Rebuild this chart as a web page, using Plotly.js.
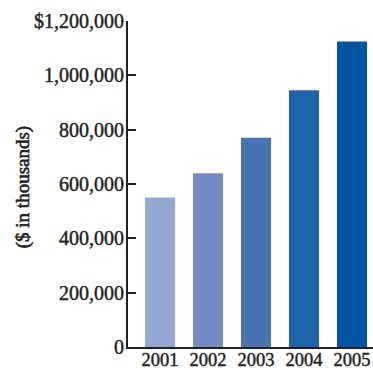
<!DOCTYPE html>
<html>
<head>
<meta charset="utf-8">
<script src="https://cdn.plot.ly/plotly-3.0.1.min.js"></script>
<style>
html,body{margin:0;padding:0;background:#fff;}
#chart{width:373px;height:370px;}
#chart .xtick text, #chart .ytick text {stroke:#231f20; stroke-width:0.45px;}
#chart text.annotation-text {stroke:#231f20 !important; stroke-width:0.6px !important;}
</style>
</head>
<body>
<div id="chart"></div>
<script>
var years = ['2001', '2002', '2003', '2004', '2005'];
var values = [550000, 640000, 770000, 945000, 1125000];
var barColors = ['#93a7d2', '#728bc2', '#4a73b2', '#1f63a8', '#03539f'];
var yTickVals = [0, 200000, 400000, 600000, 800000, 1000000, 1200000];
var yTickText = ['0', '200,000', '400,000', '600,000', '800,000', '1,000,000', '$1,200,000'];
var yTitle = '($ in thousands)';

var fontFam = '"Liberation Serif", "Times New Roman", serif';
var textColor = '#231f20';

var trace = {
  type: 'bar',
  x: years,
  y: values,
  marker: {color: barColors, line: {width: 0}},
  hoverinfo: 'none'
};

var layout = {
  width: 373,
  height: 370,
  margin: {l: 128, r: 0, t: 21, b: 23, pad: 0},
  paper_bgcolor: '#ffffff',
  plot_bgcolor: '#ffffff',
  showlegend: false,
  bargap: 0.375,
  font: {family: fontFam, color: textColor, size: 20},
  xaxis: {
    type: 'category',
    range: [-0.667, 4.4375],
    showline: true,
    linecolor: textColor,
    linewidth: 2,
    ticks: '',
    showgrid: false,
    zeroline: false,
    ticklabelstandoff: -5,
    tickfont: {family: fontFam, size: 18.5, color: textColor},
    fixedrange: true
  },
  yaxis: {
    range: [0, 1200000],
    tickvals: yTickVals,
    ticktext: yTickText,
    ticks: 'inside',
    ticklen: 8,
    tickwidth: 2,
    tickcolor: textColor,
    showline: true,
    linecolor: textColor,
    linewidth: 2,
    showgrid: false,
    zeroline: false,
    ticklabelstandoff: -2,
    tickfont: {family: fontFam, size: 20, color: textColor},
    fixedrange: true
  },
  annotations: [{
    text: yTitle,
    xref: 'paper', yref: 'paper',
    x: -0.4286, y: 0.49,
    xanchor: 'center', yanchor: 'middle',
    textangle: -90,
    showarrow: false,
    font: {family: fontFam, size: 19, color: textColor}
  }]
};

Plotly.newPlot('chart', [trace], layout, {displayModeBar: false, staticPlot: true});
</script>
</body>
</html>
